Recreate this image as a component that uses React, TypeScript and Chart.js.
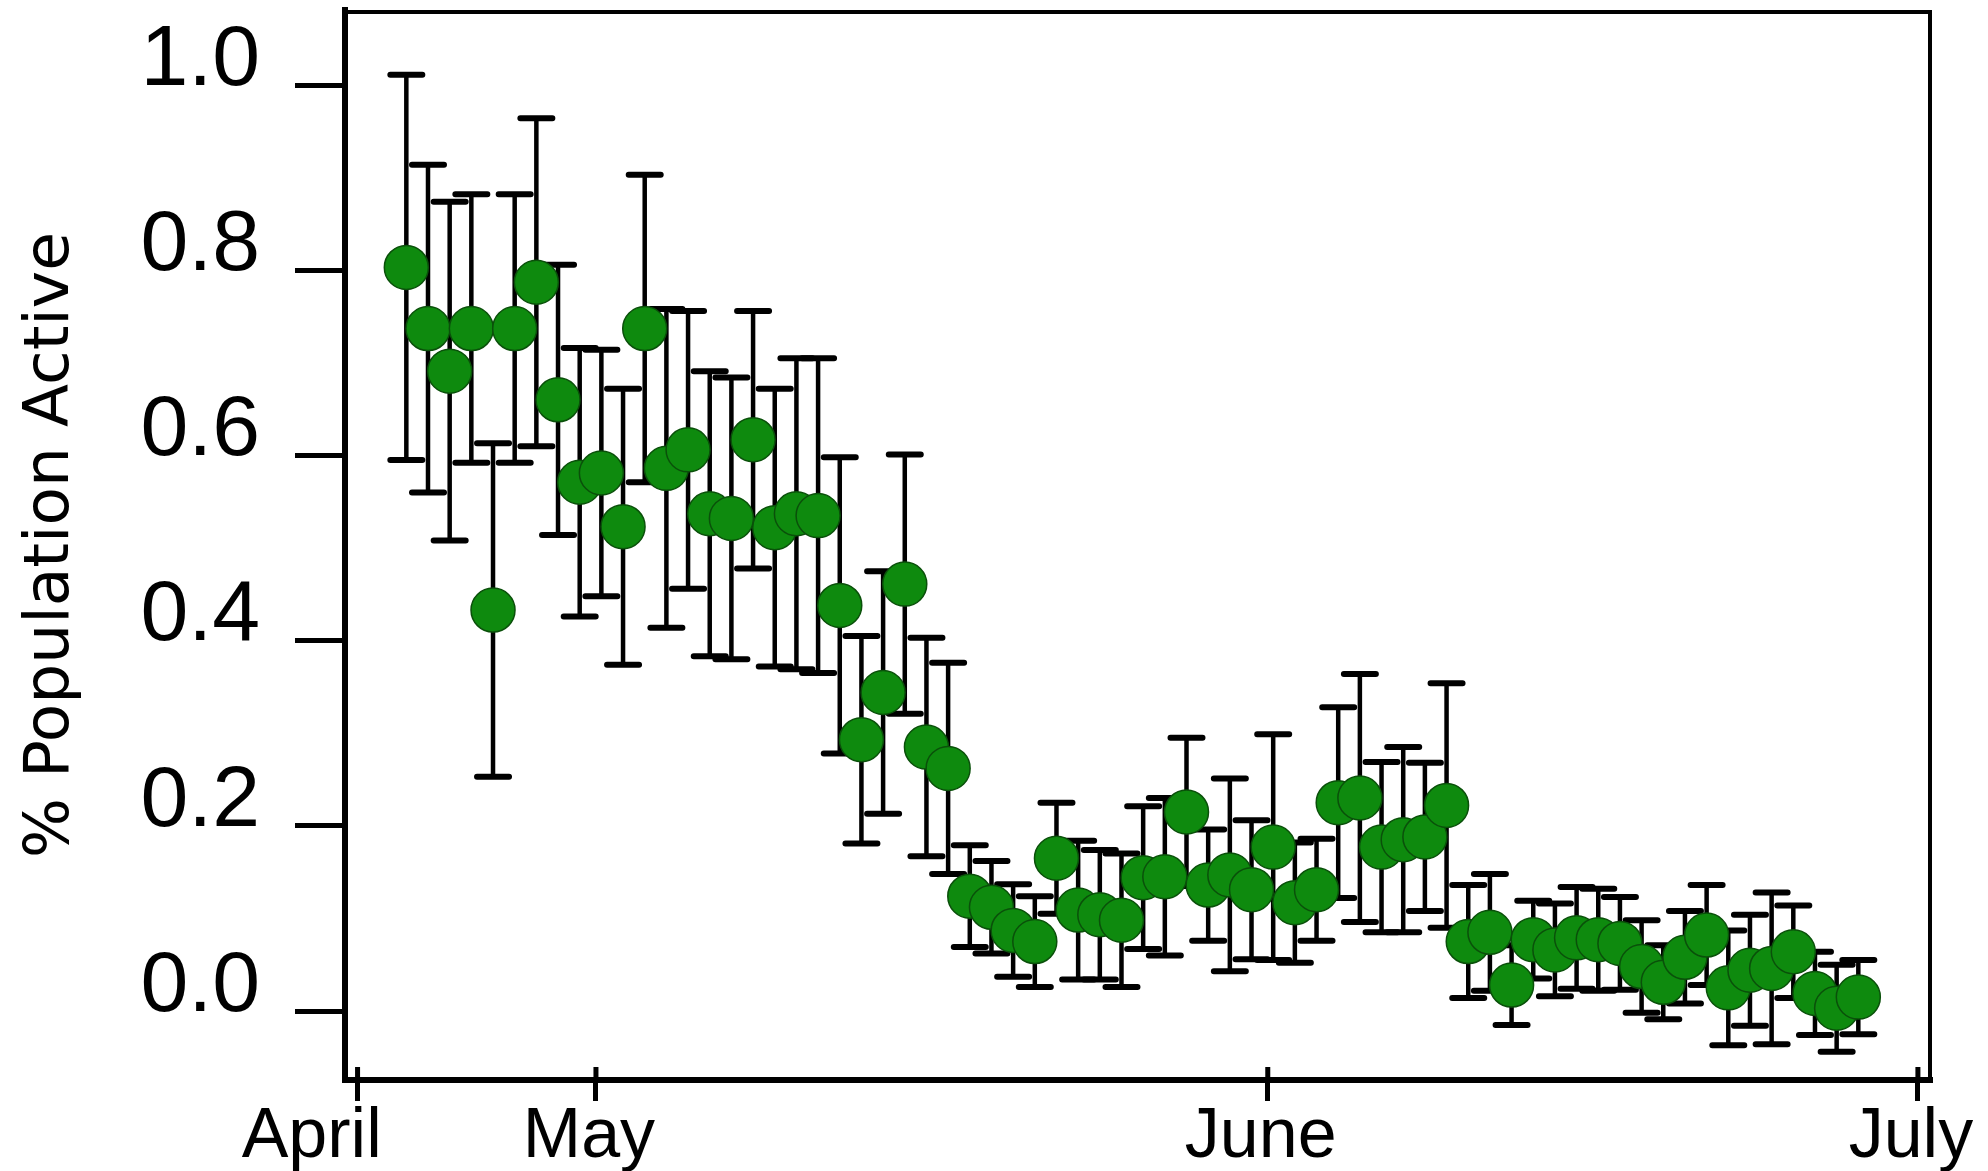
import { useEffect, useRef } from "react";
import { Chart, registerables } from "chart.js";

Chart.register(...registerables);

// Days relative to May 1 (0 = May 1)
const dayOffsets = [
  -9, -8, -7, -6, -5, -4, -3, -2, -1, 0,
  1, 2, 3, 4, 5, 6, 7, 8, 9, 10,
  11, 12, 13, 14, 15, 16, 17, 18, 19, 20,
  21, 22, 23, 24, 25, 26, 27, 28, 29, 30,
  31, 32, 33, 34, 35, 36, 37, 38, 39, 40,
  41, 42, 43, 44, 45, 46, 47, 48, 49, 50,
  51, 52, 53, 54, 55, 56, 57, 58,
];

const activeShare = [
  0.803, 0.737, 0.691, 0.737, 0.433, 0.737, 0.787, 0.66, 0.571, 0.581,
  0.523, 0.737, 0.586, 0.606, 0.537, 0.532, 0.617, 0.522, 0.537, 0.535,
  0.438, 0.293, 0.344, 0.461, 0.285, 0.262, 0.124, 0.112, 0.087, 0.075,
  0.165, 0.109, 0.104, 0.098, 0.144, 0.145, 0.215, 0.136, 0.147, 0.131,
  0.177, 0.117, 0.131, 0.225, 0.23, 0.177, 0.185, 0.188, 0.222, 0.075,
  0.085, 0.028, 0.077, 0.066, 0.079, 0.077, 0.073, 0.048, 0.031, 0.058,
  0.082, 0.025, 0.044, 0.046, 0.064, 0.019, 0.003, 0.015,
];

const errorSize = [
  0.208, 0.177, 0.183, 0.145, 0.18, 0.145, 0.177, 0.146, 0.145, 0.133,
  0.149, 0.166, 0.172, 0.15, 0.154, 0.152, 0.139, 0.15, 0.168, 0.17,
  0.16, 0.112, 0.131, 0.14, 0.118, 0.114, 0.055, 0.05, 0.05, 0.049,
  0.06, 0.075, 0.07, 0.072, 0.077, 0.085, 0.08, 0.06, 0.104, 0.075,
  0.122, 0.065, 0.055, 0.103, 0.134, 0.092, 0.1, 0.08, 0.132, 0.061,
  0.063, 0.043, 0.042, 0.05, 0.055, 0.055, 0.05, 0.05, 0.04, 0.05,
  0.054, 0.062, 0.06, 0.082, 0.05, 0.045, 0.047, 0.04,
];

// Month boundaries (samples were taken part way through each day)
const monthTickDays = [-11.25, -0.25, 30.75, 60.75];
const monthTickLabels = ["April", "May", "June", "July"];
const yTickValues = [0, 0.2, 0.4, 0.6, 0.8, 1.0];

const W = 1988;
const H = 1171;
const TICK_FONT = "'Liberation Sans', Arial, sans-serif";
const TITLE_FONT = "'DejaVu Sans', sans-serif";

const errorBarPlugin = {
  id: "errorBars",
  beforeDatasetsDraw(chart: any) {
    const { ctx, scales } = chart;
    const x = scales.x;
    const y = scales.y;
    ctx.save();
    ctx.strokeStyle = "#000";
    dayOffsets.forEach((d, i) => {
      const px = x.getPixelForValue(d);
      const top = y.getPixelForValue(activeShare[i] + errorSize[i]);
      const bot = y.getPixelForValue(activeShare[i] - errorSize[i]);
      ctx.lineCap = "butt";
      ctx.lineWidth = 4.5;
      ctx.beginPath();
      ctx.moveTo(px, top);
      ctx.lineTo(px, bot);
      ctx.stroke();
      ctx.lineCap = "round";
      ctx.lineWidth = 6;
      ctx.beginPath();
      ctx.moveTo(px - 16, top);
      ctx.lineTo(px + 16, top);
      ctx.moveTo(px - 16, bot);
      ctx.lineTo(px + 16, bot);
      ctx.stroke();
    });
    ctx.restore();
  },
};

const framePlugin = {
  id: "frame",
  afterDatasetsDraw(chart: any) {
    const { ctx, chartArea, scales } = chart;
    const { left, right, top, bottom } = chartArea;
    ctx.save();
    ctx.strokeStyle = "#000";
    ctx.lineWidth = 4;
    ctx.beginPath();
    ctx.moveTo(left, top + 2);
    ctx.lineTo(right, top + 2);
    ctx.moveTo(right - 2, top);
    ctx.lineTo(right - 2, bottom);
    ctx.stroke();
    // inner part of month ticks
    ctx.lineWidth = 5;
    ctx.beginPath();
    monthTickDays.forEach((d) => {
      const px = scales.x.getPixelForValue(d);
      ctx.moveTo(px, bottom - 13);
      ctx.lineTo(px, bottom);
    });
    ctx.stroke();
    ctx.restore();
  },
};

export default function App() {
  const canvasRef = useRef<HTMLCanvasElement | null>(null);

  useEffect(() => {
    const canvas = canvasRef.current;
    if (!canvas) return;
    const points = dayOffsets.map((d, i) => ({ x: d, y: activeShare[i] }));
    const chart = new Chart(canvas, {
      type: "scatter",
      data: {
        datasets: [
          {
            data: points,
            pointRadius: 22,
            pointHoverRadius: 22,
            backgroundColor: "#0E8A0E",
            borderColor: "#0A500A",
            borderWidth: 1.5,
          },
        ],
      },
      options: {
        animation: false,
        responsive: false,
        devicePixelRatio: 1,
        layout: {
          autoPadding: false,
          padding: { left: 0, right: 56, top: 10, bottom: 0 },
        },
        plugins: {
          legend: { display: false },
          tooltip: { enabled: false },
        },
        scales: {
          x: {
            type: "linear",
            min: -11.83,
            max: 61.4,
            afterBuildTicks: (s: any) => {
              s.ticks = monthTickDays.map((v) => ({ value: v }));
            },
            afterFit: (s: any) => {
              s.height = 91;
              s.paddingLeft = 0;
              s.paddingRight = 0;
            },
            ticks: {
              autoSkip: false,
              maxRotation: 0,
              color: "#000",
              padding: -5,
              labelOffset: -7,
              font: { family: TICK_FONT, size: 70 },
              callback: (v: any) => {
                const idx = monthTickDays.indexOf(Number(v));
                if (idx < 0) return "";
                return idx === 0 ? monthTickLabels[idx] + "    " : monthTickLabels[idx];
              },
            },
            grid: {
              display: true,
              drawOnChartArea: false,
              drawTicks: true,
              tickLength: 21,
              tickWidth: 5,
              tickColor: "#000",
            },
            border: { display: true, width: 6, color: "#000" },
          },
          y: {
            type: "linear",
            min: -0.0745,
            max: 1.081,
            afterBuildTicks: (s: any) => {
              s.ticks = yTickValues.map((v) => ({ value: v }));
            },
            afterFit: (s: any) => {
              s.width = 345;
              s.paddingTop = 0;
              s.paddingBottom = 0;
            },
            ticks: {
              color: "#000",
              padding: 35,
              labelOffset: -24,
              font: { family: TICK_FONT, size: 86 },
              callback: (v: any) => Number(v).toFixed(1),
            },
            grid: {
              display: true,
              drawOnChartArea: false,
              drawTicks: true,
              tickLength: 50,
              tickWidth: 5,
              tickColor: "#000",
            },
            border: { display: true, width: 6, color: "#000" },
            title: {
              display: true,
              text: "% Population Active",
              color: "#000",
              font: { family: TITLE_FONT, size: 63 },
              padding: { top: 14, bottom: 0 },
            },
          },
        },
      },
      plugins: [errorBarPlugin, framePlugin],
    });
    return () => chart.destroy();
  }, []);

  return (
    <div style={{ position: "fixed", left: 0, top: 0, width: W, height: H, background: "#fff" }}>
      <canvas ref={canvasRef} width={W} height={H} style={{ width: W, height: H, display: "block" }} />
    </div>
  );
}
